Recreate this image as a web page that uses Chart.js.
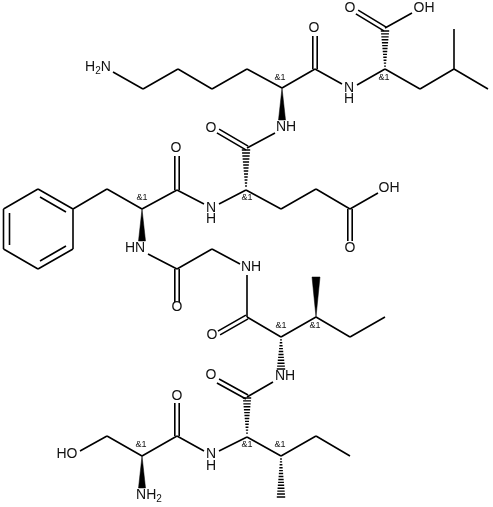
<!DOCTYPE html>
<html>
<head>
<meta charset="utf-8">
<style>
html, body { margin: 0; padding: 0; background: #fff; }
#wrap { position: relative; width: 493px; height: 507px; }
</style>
<script src="https://cdn.jsdelivr.net/npm/chart.js@4"></script>
</head>
<body>
<div id="wrap"><canvas id="molChart"></canvas></div>
<script>
// bonds: x1, y1, x2, y2
const singleBonds = [
    [113,72, 143,89], [143,89, 178,69], [178,69, 212,89], [212,89, 247,69], [247,69, 282,88],
    [282,88, 315,69], [315,69, 342,84], [357,85, 385,69], [385,69, 420,89], [420,89, 454,69],
    [454,69, 488,89], [454,69, 454,29], [385,28, 412,13],
    [275,133, 247,148], [246,190, 281,209], [281,209, 316,189], [316,189, 350,209], [350,209, 378,193],
    [246,190, 219,204], [204,204, 177,190], [177,190, 142,209], [142,209, 107,189], [107,189, 73,209],
    [148,254, 177,269], [177,269, 212,249], [212,249, 240,264], [247,275, 247,317],
    [247,317, 281,337], [281,337, 316,317], [316,317, 350,337], [350,337, 385,317],
    [273,382, 247,397], [247,437, 219,451], [204,451, 177,436], [177,436, 142,456],
    [142,456, 107,436], [107,436, 80,451],
    [247,437, 281,456], [281,456, 316,436], [316,436, 350,456],
    // phenyl ring
    [73,209, 38,189], [38,189, 3.5,209], [3.5,209, 3.5,249], [3.5,249, 38,269], [38,269, 73,249], [73,249, 73,209],
    [40,197, 66,212], [9.5,213, 9.5,245], [40,261, 66,246]
];
const doubleBonds = [
    [385,29, 357,12], [315,69, 315,36], [247,148, 218,131], [350,209, 350,241],
    [177,190, 177,156], [177,269, 177,302], [247,317, 219,333], [247,397, 218,381], [177,436, 177,403]
];
const wedgeBonds = [
    [282,88, 282,120, 7], [142,209, 142,241, 7], [316,317, 316,277, 8], [142,456, 142,488, 7]
];
const hashBonds = [
    [385,69, 385,31], [246,189, 246,150], [281,337, 281,369], [247,436, 247,398], [281,456, 281,497]
];
// atom labels
const labelText = ['H2N', 'O', 'O', 'OH', 'N', 'H', 'NH', 'O', 'N', 'H', 'O', 'OH', 'O',
    'HN', 'O', 'NH', 'O', 'NH', 'O', 'N', 'H', 'O', 'HO', 'NH2'];
const labelX = [98, 314, 350, 424, 349, 349, 286, 211, 211, 211, 176, 389, 350,
    135, 177, 251, 212, 285, 211, 211, 211, 177, 67, 149];
const labelY = [67, 28, 8, 8, 88, 99, 127, 128, 208, 219, 148, 188, 248,
    248, 307, 267, 335, 376, 375, 454, 466, 396, 454, 495];
const stereoX = [280, 384, 142, 247, 281, 315, 141, 247, 280];
const stereoY = [78, 78, 198, 198, 326, 326, 445, 445, 445];

function segments(list) {
    const pts = [];
    list.forEach(b => {
        pts.push({ x: b[0], y: b[1] }, { x: b[2], y: b[3] }, { x: NaN, y: NaN });
    });
    return pts;
}

// double bond: two lines either side of the bond
function doubleSegments(list) {
    const out = [];
    list.forEach(b => {
        const dx = b[2] - b[0], dy = b[3] - b[1];
        const len = Math.hypot(dx, dy);
        const nx = -dy / len * 2.2, ny = dx / len * 2.2;
        out.push([b[0] + nx, b[1] + ny, b[2] + nx, b[3] + ny]);
        out.push([b[0] - nx, b[1] - ny, b[2] - nx, b[3] - ny]);
    });
    return out;
}

// hashed bond: stripes getting wider from tip to base
function hashSegments(list) {
    const out = [];
    list.forEach(b => {
        const len = Math.abs(b[3] - b[1]);
        const n = Math.round(len / 3);
        for (let i = 1; i <= n; i++) {
            const t = i / n;
            const y = b[1] + (b[3] - b[1]) * t;
            const half = 0.6 + 3.6 * t;
            out.push([b[0] - half, y, b[0] + half, y]);
        }
    });
    return out;
}

const lineStyle = { showLine: true, borderColor: '#000', borderWidth: 1.6, pointRadius: 0, spanGaps: false, fill: false };

const datasets = [
    Object.assign({ data: segments(singleBonds) }, lineStyle),
    Object.assign({ data: segments(doubleSegments(doubleBonds)) }, lineStyle),
    Object.assign({ data: segments(hashSegments(hashBonds)) }, lineStyle, { borderWidth: 1.4 })
];
wedgeBonds.forEach(w => {
    datasets.push({
        showLine: true, pointRadius: 0, borderColor: '#000', borderWidth: 0.5,
        backgroundColor: '#000', fill: 'shape',
        data: [{ x: w[0], y: w[1] }, { x: w[2] - w[4] / 2, y: w[3] }, { x: w[2] + w[4] / 2, y: w[3] }, { x: w[0], y: w[1] }]
    });
});

const labelPlugin = {
    id: 'atomLabels',
    afterDatasetsDraw(chart) {
        const c = chart.ctx, sx = chart.scales.x, sy = chart.scales.y;
        c.save();
        c.fillStyle = '#111';
        c.textBaseline = 'middle';
        labelText.forEach((t, i) => {
            const parts = t.match(/[A-Z]+|\d/g);
            const widths = parts.map(p => {
                c.font = /\d/.test(p) ? '10px "Liberation Sans"' : '14px "Liberation Sans"';
                return c.measureText(p).width;
            });
            let x = sx.getPixelForValue(labelX[i]) - widths.reduce((a, b) => a + b, 0) / 2;
            const y = sy.getPixelForValue(labelY[i]);
            c.textAlign = 'left';
            parts.forEach((p, k) => {
                const sub = /\d/.test(p);
                c.font = sub ? '10px "Liberation Sans"' : '14px "Liberation Sans"';
                c.fillText(p, x, sub ? y + 4 : y);
                x += widths[k];
            });
        });
        c.font = '9px "Liberation Sans"';
        c.textAlign = 'center';
        stereoX.forEach((x, i) => {
            c.fillText('&1', sx.getPixelForValue(x), sy.getPixelForValue(stereoY[i]));
        });
        c.restore();
    }
};

new Chart(document.getElementById('molChart').getContext('2d'), {
    type: 'scatter',
    data: { datasets: datasets },
    options: {
        responsive: true,
        maintainAspectRatio: false,
        animation: false,
        layout: { padding: 0 },
        plugins: { legend: { display: false }, tooltip: { enabled: false } },
        scales: {
            x: { type: 'linear', display: false, min: 0, max: 493 },
            y: { type: 'linear', display: false, min: 0, max: 507, reverse: true }
        }
    },
    plugins: [labelPlugin]
});
</script>
</body>
</html>
